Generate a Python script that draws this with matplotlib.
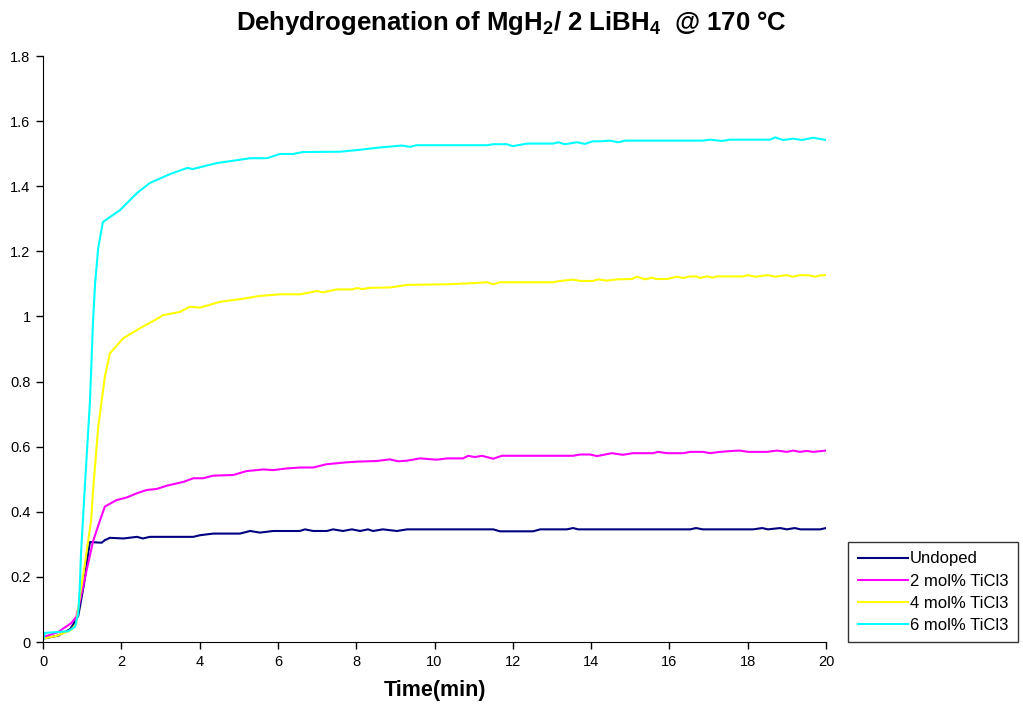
import matplotlib
matplotlib.use("Agg")
import matplotlib.pyplot as plt

plt.rcParams['font.family'] = ['Liberation Sans', 'DejaVu Sans']
plt.rcParams['mathtext.fontset'] = 'custom'
plt.rcParams['mathtext.rm'] = 'Liberation Sans:bold'
plt.rcParams['mathtext.it'] = 'Liberation Sans:bold'
plt.rcParams['mathtext.bf'] = 'Liberation Sans:bold'

# ---------------- Data ----------------
undoped_t = [0, 0.4, 0.7, 0.9, 1.05, 1.15, 1.2, 1.5, 1.58, 1.71, 2.05, 2.4, 2.55, 2.73, 3.84,
             4.01, 4.35, 5.03, 5.29, 5.54, 5.88, 6.56, 6.69, 6.9, 7.25, 7.41, 7.66, 7.89, 8.1,
             8.3, 8.43, 8.68, 9.04, 9.3, 11.5, 11.67, 12.52, 12.7, 13.38, 13.54, 13.67, 16.53,
             16.68, 16.85, 18.14, 18.37, 18.52, 18.83, 19.0, 19.2, 19.35, 19.85, 20.0]
undoped_v = [0.01, 0.02, 0.04, 0.08, 0.18, 0.27, 0.307, 0.305, 0.313, 0.32, 0.318, 0.323, 0.318,
             0.323, 0.323, 0.328, 0.333, 0.333, 0.341, 0.336, 0.341, 0.341, 0.346, 0.341, 0.341,
             0.346, 0.341, 0.346, 0.341, 0.346, 0.341, 0.346, 0.341, 0.346, 0.346, 0.34, 0.34,
             0.346, 0.346, 0.35, 0.346, 0.346, 0.35, 0.346, 0.346, 0.35, 0.346, 0.35, 0.346,
             0.35, 0.346, 0.346, 0.35]

mol2_t = [0, 0.38, 0.72, 0.85, 0.97, 1.15, 1.28, 1.46, 1.58, 1.88, 2.14, 2.4, 2.65, 2.9, 3.16,
          3.59, 3.84, 4.09, 4.35, 4.86, 5.2, 5.63, 5.88, 6.22, 6.56, 6.9, 7.24, 7.76, 8.02, 8.53,
          8.86, 9.07, 9.3, 9.63, 10.06, 10.32, 10.73, 10.86, 11.03, 11.21, 11.5, 11.72, 13.54,
          13.72, 13.97, 14.15, 14.53, 14.81, 15.07, 15.58, 15.71, 15.94, 16.35, 16.53, 16.86,
          17.04, 17.29, 17.62, 17.8, 18.01, 18.49, 18.75, 19.0, 19.16, 19.34, 19.51, 19.67, 20.0]
mol2_v = [0.015, 0.03, 0.058, 0.077, 0.14, 0.24, 0.31, 0.375, 0.416, 0.436, 0.444, 0.457, 0.467,
          0.47, 0.48, 0.492, 0.503, 0.503, 0.511, 0.513, 0.525, 0.53, 0.528, 0.533, 0.536, 0.536,
          0.546, 0.552, 0.554, 0.556, 0.561, 0.555, 0.557, 0.564, 0.56, 0.564, 0.564, 0.572,
          0.568, 0.572, 0.563, 0.572, 0.572, 0.576, 0.576, 0.571, 0.58, 0.575, 0.58, 0.58, 0.584,
          0.58, 0.58, 0.584, 0.584, 0.58, 0.584, 0.587, 0.588, 0.584, 0.584, 0.588, 0.584,
          0.588, 0.584, 0.587, 0.584, 0.588]

mol4_t = [0, 0.38, 0.72, 0.85, 0.94, 1.07, 1.23, 1.28, 1.41, 1.58, 1.71, 2.05, 2.48, 2.86, 3.07,
          3.5, 3.75, 4.01, 4.52, 5.03, 5.54, 6.05, 6.56, 7.0, 7.15, 7.5, 7.9, 8.02, 8.17, 8.35,
          8.86, 9.32, 10.4, 11.08, 11.34, 11.5, 11.67, 13.03, 13.2, 13.54, 13.72, 14.05, 14.18,
          14.4, 14.66, 15.04, 15.17, 15.38, 15.55, 15.68, 15.94, 16.2, 16.35, 16.53, 16.7, 16.78,
          16.96, 17.11, 17.22, 17.88, 18.01, 18.19, 18.52, 18.7, 19.0, 19.16, 19.34, 19.59,
          19.72, 19.85, 20.0]
mol4_v = [0.01, 0.02, 0.037, 0.057, 0.14, 0.24, 0.375, 0.467, 0.66, 0.815, 0.887, 0.933, 0.964,
          0.989, 1.004, 1.014, 1.03, 1.027, 1.045, 1.053, 1.063, 1.068, 1.068, 1.078, 1.074,
          1.083, 1.083, 1.087, 1.084, 1.088, 1.089, 1.097, 1.099, 1.103, 1.105, 1.099, 1.105,
          1.105, 1.109, 1.113, 1.109, 1.109, 1.114, 1.110, 1.114, 1.115, 1.122, 1.114, 1.119,
          1.115, 1.115, 1.122, 1.118, 1.123, 1.123, 1.118, 1.123, 1.119, 1.123, 1.123, 1.127,
          1.122, 1.127, 1.122, 1.127, 1.122, 1.127, 1.126, 1.122, 1.126, 1.127]

mol6_t = [0, 0.05, 0.3, 0.64, 0.82, 0.9, 0.94, 0.97, 1.02, 1.07, 1.2, 1.28, 1.33, 1.41, 1.53,
          1.97, 2.4, 2.73, 3.24, 3.68, 3.83, 4.44, 5.29, 5.72, 6.05, 6.39, 6.64, 7.59, 8.1, 8.6,
          9.17, 9.37, 9.55, 11.34, 11.5, 11.85, 12.0, 12.36, 13.03, 13.16, 13.33, 13.64, 13.84,
          14.05, 14.23, 14.48, 14.69, 14.87, 16.86, 17.04, 17.34, 17.55, 18.57, 18.7, 18.9,
          19.16, 19.39, 19.67, 20.0]
mol6_v = [0.005, 0.028, 0.03, 0.033, 0.047, 0.088, 0.17, 0.27, 0.375, 0.48, 0.74, 0.99, 1.10,
          1.21, 1.29, 1.327, 1.379, 1.41, 1.437, 1.456, 1.453, 1.471, 1.486, 1.486, 1.499, 1.499,
          1.505, 1.506, 1.512, 1.519, 1.525, 1.521, 1.526, 1.526, 1.529, 1.529, 1.523, 1.531,
          1.531, 1.535, 1.529, 1.535, 1.530, 1.538, 1.538, 1.540, 1.535, 1.540, 1.540, 1.543,
          1.539, 1.543, 1.543, 1.55, 1.542, 1.546, 1.542, 1.549, 1.542]

labels = ["Undoped", "2 mol% TiCl3", "4 mol% TiCl3", "6 mol% TiCl3"]
colors = ["#000080", "#FF00FF", "#FFFF00", "#00FFFF"]

# ---------------- Plot ----------------
fig = plt.figure(figsize=(10.23, 7.05), dpi=100)
ax = fig.add_axes([43/1023, 63/705, 783/1023, 586/705])

series = [(undoped_t, undoped_v), (mol2_t, mol2_v), (mol4_t, mol4_v), (mol6_t, mol6_v)]
for (t, v), lab, c in zip(series, labels, colors):
    ax.plot(t, v, color=c, lw=1.5, label=lab)

ax.set_xlim(0, 20)
ax.set_ylim(0, 1.8)
ax.set_xticks(range(0, 21, 2))
ax.set_yticks([0, 0.2, 0.4, 0.6, 0.8, 1, 1.2, 1.4, 1.6, 1.8])
ax.set_yticklabels(["0", "0.2", "0.4", "0.6", "0.8", "1", "1.2", "1.4", "1.6", "1.8"])
ax.spines['top'].set_visible(False)
ax.spines['right'].set_visible(False)
ax.tick_params(direction='out', length=5, width=1, labelsize=10.5, pad=4)
ax.set_xlabel("Time(min)", fontsize=15.5, fontweight='bold', labelpad=8)

fig.text(0.5, 0.968, r"Dehydrogenation of MgH$_2$/ 2 LiBH$_4$  @ 170 °C",
         ha='center', va='center', fontsize=18.5, fontweight='bold')

leg = ax.legend(loc='lower left', bbox_to_anchor=(848/1023, 63/705), bbox_transform=fig.transFigure,
                frameon=True, fancybox=False, fontsize=12, handlelength=3.0, handletextpad=0.15,
                labelspacing=0.42, borderpad=0.57, borderaxespad=0)
leg.get_frame().set_edgecolor('black')
leg.get_frame().set_linewidth(1)

fig.savefig("out.png", dpi=100)
